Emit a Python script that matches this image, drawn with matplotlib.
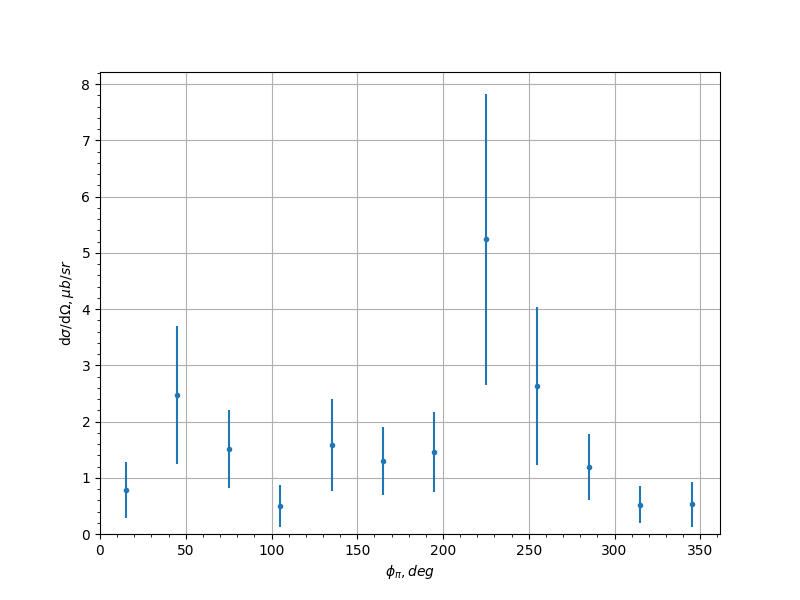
import matplotlib
matplotlib.use("Agg")
from matplotlib import pyplot as plt
import numpy as np

# Data
phi   = [15, 45, 75, 105, 135, 165, 195, 225, 255, 285, 315, 345]   # deg
xsec  = [0.78, 2.47, 1.51, 0.50, 1.58, 1.30, 1.46, 5.24, 2.63, 1.19, 0.52, 0.53]  # mub/sr
dxsec = [0.50, 1.23, 0.69, 0.37, 0.82, 0.60, 0.71, 2.59, 1.40, 0.58, 0.33, 0.40]

phi   = np.array( phi )
xsec  = np.array( xsec )
dxsec = np.array( dxsec )

fig = plt.figure( figsize=(8, 6), dpi=100 )
ax = fig.add_subplot( 111 )
ax.errorbar( phi, xsec, yerr=dxsec, fmt="o", markersize=3 )
ax.set_xlim( left=0 )
ax.set_ylim( bottom=0 )
ax.minorticks_on()
ax.grid( which="major" )
ax.set_xlabel( r"$\phi_\pi, deg$" )
ax.set_ylabel( r"d$\sigma$/d$\Omega, \mu b/sr$" )
fig.savefig( "out.png", dpi=100 )
